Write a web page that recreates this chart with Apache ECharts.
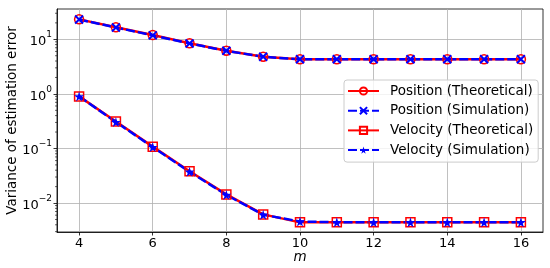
<!DOCTYPE html>
<html>
<head>
<meta charset="utf-8">
<script src="https://cdn.jsdelivr.net/npm/echarts@6/dist/echarts.min.js"></script>
<style>
html, body { margin: 0; padding: 0; background: #fff; }
#chart { width: 550px; height: 268px; }
</style>
</head>
<body>
<div id="chart"></div>
<script>
// window size m
var mValues = [4, 5, 6, 7, 8, 9, 10, 11, 12, 13, 14, 15, 16];

// variance of estimation error
var posTheory = [23.2, 16.6, 12.0, 8.45, 6.18, 4.8, 4.31, 4.31, 4.31, 4.31, 4.31, 4.31, 4.31];
var posSim    = [23.0, 16.5, 11.8, 8.4, 6.15, 4.78, 4.3, 4.3, 4.3, 4.3, 4.3, 4.3, 4.3];
var velTheory = [0.90, 0.311, 0.108, 0.0383, 0.0144, 0.0062, 0.00443, 0.00443, 0.00443, 0.00443, 0.00443, 0.00443, 0.00443];
var velSim    = [0.90, 0.305, 0.106, 0.0375, 0.0141, 0.0061, 0.0046, 0.00445, 0.00445, 0.00445, 0.00445, 0.00445, 0.00445];

// axis ticks
var xTickValues = [4, 6, 8, 10, 12, 14, 16];
var yTickValues = [0.01, 0.1, 1, 10];
var yMinorTicks = [0.003, 0.004, 0.005, 0.006, 0.007, 0.008, 0.009,
  0.02, 0.03, 0.04, 0.05, 0.06, 0.07, 0.08, 0.09,
  0.2, 0.3, 0.4, 0.5, 0.6, 0.7, 0.8, 0.9,
  2, 3, 4, 5, 6, 7, 8, 9, 20, 30];

var names = ['Position (Theoretical)', 'Position (Simulation)', 'Velocity (Theoretical)', 'Velocity (Simulation)'];

var RED = '#ff0000';
var BLUE = '#0000ff';
var FONT = 'DejaVu Sans';
var xMin = 3.4, xMax = 16.6;

function pairs(ys) {
  return mValues.map(function (m, i) { return [m, ys[i]]; });
}

var xMark = 'path://M0,0L10,10M10,0L0,10';
var star = 'path://M50,0L61,35L98,35L68,57L79,91L50,70L21,91L32,57L2,35L39,35Z';

var option = {
  animation: false,
  backgroundColor: '#fff',
  textStyle: { fontFamily: FONT },
  grid: {
    left: 57, right: 7, top: 9, bottom: 36,
    containLabel: false,
    outerBoundsMode: 'none',
    show: true, borderColor: '#000', borderWidth: 0.8,
    backgroundColor: 'transparent'
  },
  legend: {
    orient: 'vertical',
    left: 344, top: 80,
    padding: [4, 5, 5, 3],
    itemGap: 5.7,
    itemWidth: 31,
    itemHeight: 9,
    backgroundColor: 'rgba(255,255,255,0.8)',
    borderColor: '#cccccc',
    borderWidth: 1,
    borderRadius: 3,
    textStyle: { fontSize: 13.5, color: '#000', fontFamily: FONT, padding: [0, 0, 0, 6], lineHeight: 14 },
    data: names
  },
  xAxis: {
    type: 'value',
    min: xMin, max: xMax,
    name: 'm',
    nameLocation: 'middle',
    nameGap: 18,
    nameMoveOverlap: false,
    nameTextStyle: { fontStyle: 'italic', fontSize: 13.5, color: '#000', fontFamily: FONT },
    axisLine: { show: true, onZero: false, lineStyle: { color: '#000', width: 0.8 } },
    axisTick: { show: true, length: 3.5, customValues: xTickValues, lineStyle: { color: '#000', width: 0.8 } },
    axisLabel: { fontSize: 13, color: '#000', fontFamily: FONT, margin: 5, customValues: xTickValues },
    splitLine: { show: true, lineStyle: { color: '#b0b0b0', width: 0.8 } }
  },
  yAxis: {
    type: 'log',
    logBase: 10,
    min: 0.00295, max: 35.9,
    name: 'Variance of estimation error',
    nameLocation: 'middle',
    nameGap: 38,
    nameMoveOverlap: false,
    nameTextStyle: { fontSize: 13.5, color: '#000', fontFamily: FONT },
    axisLine: { show: true, lineStyle: { color: '#000', width: 0.8 } },
    axisTick: { show: true, length: 3.5, customValues: yTickValues, lineStyle: { color: '#000', width: 0.8 } },
    axisLabel: {
      customValues: yTickValues,
      margin: 5,
      color: '#000',
      fontFamily: FONT,
      formatter: function (v) {
        var e = Math.round(Math.log(v) / Math.LN10);
        return '{b|10}{s|' + (e < 0 ? '\u2212' + (-e) : e) + '}';
      },
      rich: {
        b: { fontSize: 13, color: '#000', fontFamily: FONT, verticalAlign: 'bottom', lineHeight: 18 },
        s: { fontSize: 9, color: '#000', fontFamily: FONT, verticalAlign: 'top', lineHeight: 18 }
      }
    },
    splitLine: { show: true, lineStyle: { color: '#b0b0b0', width: 0.8 } }
  },
  series: [
    {
      name: names[0], type: 'line', data: pairs(posTheory),
      symbol: 'circle', symbolSize: 9,
      lineStyle: { color: RED, width: 2.5 },
      itemStyle: { color: 'rgba(0,0,0,0)', borderColor: RED, borderWidth: 1.5 }
    },
    {
      name: names[1], type: 'line', data: pairs(posSim),
      symbol: xMark, symbolSize: 8,
      lineStyle: { color: BLUE, width: 2.5, type: [9, 3] },
      itemStyle: { color: 'rgba(0,0,0,0)', borderColor: BLUE, borderWidth: 2 }
    },
    {
      name: names[2], type: 'line', data: pairs(velTheory),
      symbol: 'rect', symbolSize: 9,
      lineStyle: { color: RED, width: 2.5 },
      itemStyle: { color: 'rgba(0,0,0,0)', borderColor: RED, borderWidth: 1.5 }
    },
    {
      name: names[3], type: 'line', data: pairs(velSim),
      symbol: star, symbolSize: 10,
      lineStyle: { color: BLUE, width: 2.5, type: [9, 3] },
      itemStyle: { color: BLUE, borderColor: BLUE, borderWidth: 0 }
    },
    {
      // minor ticks of the log axis
      type: 'custom',
      silent: true,
      clip: false,
      data: yMinorTicks.map(function (v) { return [xMin, v]; }),
      renderItem: function (params, api) {
        var p = api.coord([api.value(0), api.value(1)]);
        return {
          type: 'line',
          shape: { x1: p[0] - 2, y1: p[1], x2: p[0], y2: p[1] },
          style: { stroke: '#000', lineWidth: 0.6 }
        };
      }
    }
  ]
};

var chart = echarts.init(document.getElementById('chart'), null, { renderer: 'canvas' });
chart.setOption(option);
</script>
</body>
</html>
